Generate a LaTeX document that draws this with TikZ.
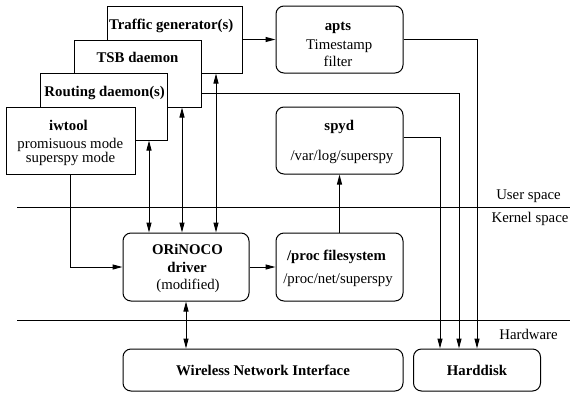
\documentclass[tikz,border=0pt]{standalone}
\usepackage{fontspec}
\setmainfont{Liberation Serif}[BoldFont={Liberation Serif Bold}]
\usetikzlibrary{arrows.meta}
\begin{document}
\begin{tikzpicture}[x=1pt,y=-1pt,
  box/.style={draw, line width=1pt, fill=white, inner sep=0pt},
  rbox/.style={box, rounded corners=8pt},
  txt/.style={anchor=base, inner sep=0pt, font=\fontsize{14.8}{17}\selectfont},
  btxt/.style={anchor=base, inner sep=0pt, font=\fontsize{14.8}{17}\selectfont\bfseries},
  conn/.style={line width=1pt, -{Triangle[length=10pt,width=5pt]}},
  both/.style={line width=1pt, {Triangle[length=10pt,width=5pt]}-{Triangle[length=10pt,width=5pt]}},
  sep/.style={line width=1pt}]
\useasboundingbox (0,0) rectangle (570,394);

% layer separators
\coordinate (usl) at (17,207);  \coordinate (usr) at (570,207);
\coordinate (hwl) at (17,320);  \coordinate (hwr) at (570,320);
\draw[sep] (usl) -- (usr);
\draw[sep] (hwl) -- (hwr);
\node[txt] (user)   at (528.5,199.5) {User space};
\node[txt] (kernel) at (530,222.5)   {Kernel space};
\node[txt] (hw)     at (528.5,339.5) {Hardware};

% stacked user-space programs, back to front
\node[box, minimum width=135pt, minimum height=67pt] (tg)  at (174.5,39.5) {};
\node[box, minimum width=127pt, minimum height=67pt] (tsb) at (137.5,73.5) {};
\node[box, minimum width=127pt, minimum height=67pt] (rd)  at (103.5,106.5) {};
\node[box, minimum width=129pt, minimum height=67pt] (iw)  at (70.5,140.5) {};
\node[btxt] (tgt)  at (171.2,29)  {Traffic generator(s)};
\node[btxt] (tsbt) at (137.5,62.3){TSB daemon};
\node[btxt] (rdt)  at (104.7,96.5){Routing daemon(s)};
\node[btxt] (iwt)  at (68.5,130.5){iwtool};
\node[txt]  (iwa)  at (70.3,148.5){promisuous mode};
\node[txt]  (iwb)  at (70.5,162.5){superspy mode};

% apts and spyd
\node[rbox, minimum width=127pt, minimum height=67pt] (apts) at (339.5,39.5) {};
\node[btxt] (aptst) at (338,30.5) {apts};
\node[txt]  (aptsa) at (339.2,49) {Timestamp};
\node[txt]  (aptsb) at (338,66.5) {filter};
\node[rbox, minimum width=127pt, minimum height=67pt] (spyd) at (339.5,140.5) {};
\node[btxt] (spydt) at (339.3,130.7) {spyd};
\node[txt]  (spyda) at (342,160.7) {/var/log/superspy};

% kernel space
\node[rbox, minimum width=126pt, minimum height=68pt] (ori)  at (186,267) {};
\node[btxt] (orit)  at (187.5,254) {ORiNOCO};
\node[btxt] (orib)  at (187,272.7) {driver};
\node[txt]  (oric)  at (188,289.3) {(modified)};
\node[rbox, minimum width=127pt, minimum height=68pt] (proc) at (339.5,267) {};
\node[btxt] (proct) at (336.5,260) {/proc filesystem};
\node[txt]  (proca) at (338,283.3) {/proc/net/superspy};

% hardware
\node[rbox, minimum width=280pt, minimum height=42pt] (wni) at (263,370) {};
\node[btxt] (wnit) at (263,375.7) {Wireless Network Interface};
\node[rbox, minimum width=127pt, minimum height=42pt] (hd) at (477,370) {};
\node[btxt] (hdt) at (477,375.7) {Harddisk};

% connectors
\draw[conn] (tg.east) -- (apts.west);
\draw[both] (tg.south -| 216,0)  -- (ori.north -| 216,0);
\draw[both] (tsb.south -| 182,0) -- (ori.north -| 182,0);
\draw[both] (rd.south -| 149,0)  -- (ori.north -| 149,0);
\draw[conn] (iw.south -| 70,0) |- (ori.west);
\draw[conn] (ori.east) -- (proc.west);
\draw[conn] (proc.north) -- (spyd.south);
\draw[both] (ori.south) -- (ori.south |- wni.north);
\draw[conn] (apts.east) -| (hd.north);
\draw[conn] (tsb.east |- 0,93) -| (hd.north -| 459,0);
\draw[conn] (spyd.east |- 0,137) -| (hd.north -| 440,0);
\end{tikzpicture}
\end{document}
